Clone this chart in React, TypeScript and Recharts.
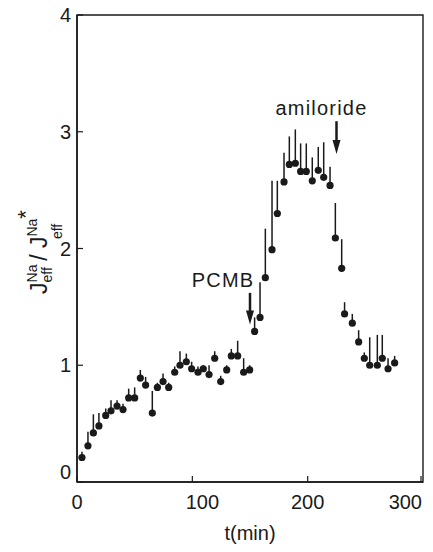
import { ScatterChart, Scatter, XAxis, YAxis, ErrorBar, ReferenceLine, ReferenceArea, Label } from 'recharts';

// time (min) of each sample
const times = [
  4.3, 9.5, 14.2, 19, 24.9, 29.5, 34.7, 39.9, 44.8, 50, 54.9, 59.5, 65.3, 69.7, 74.6, 79.5,
  84.7, 89.3, 94.8, 99.4, 104.9, 109.5, 114.5, 119.4, 124.6, 129.8, 133.8, 139.3, 144.5, 149.7,
  154, 158.7, 163.3, 169.1, 173.7, 179.5, 184.1, 189.3, 193.9, 198.8, 204, 209.2, 213.9, 219.4,
  224, 229.5, 232, 238.7, 244.2, 249.1, 253.8, 260.4, 264.7, 269.7, 275.4,
];

// mean flux ratio
const means = [
  0.21, 0.31, 0.42, 0.48, 0.57, 0.61, 0.65, 0.62, 0.72, 0.72, 0.89, 0.83, 0.59, 0.81, 0.86, 0.81,
  0.94, 1.0, 1.03, 0.97, 0.94, 0.97, 0.92, 1.06, 0.86, 0.96, 1.08, 1.08, 0.94, 0.96,
  1.29, 1.41, 1.75, 1.99, 2.3, 2.57, 2.72, 2.73, 2.66, 2.66, 2.58, 2.67, 2.61, 2.54,
  2.09, 1.83, 1.44, 1.36, 1.2, 1.06, 1.0, 1.0, 1.06, 0.97, 1.02,
];

// top of the error bar
const tops = [
  0.26, 0.43, 0.58, 0.59, 0.63, 0.7, 0.7, 0.67, 0.8, 0.81, 0.96, 0.9, 0.78, 0.85, 0.93, 0.85,
  0.99, 1.12, 1.1, 1.03, 0.99, 1.0, 1.0, 1.12, 0.91, 1.0, 1.14, 1.21, 1.06, 1.0,
  1.41, 1.71, 2.17, 2.58, 2.58, 2.82, 2.96, 3.02, 2.9, 2.9, 2.78, 2.87, 2.91, 2.7,
  2.39, 2.08, 1.54, 1.44, 1.3, 1.11, 1.24, 1.26, 1.26, 1.06, 1.08,
];

const xTicks = [0, 100, 200, 300];
const yTicks = [0, 1, 2, 3, 4];

const data = times.map((t, i) => ({ t, y: means[i], err: [0, tops[i] - means[i]] }));

const font = '"Liberation Sans", Arial, sans-serif';
const ink = '#1a1a1a';

const XTick = (props: any) => {
  const { x, y, payload } = props;
  const v = payload.value;
  const anchor = v === 300 ? 'end' : 'middle';
  const tx = v === 300 ? x + 1 : v === 100 ? x + 10 : x;
  return (
    <g>
      <line x1={x} y1={y} x2={x} y2={y - 6} stroke={ink} strokeWidth={1.2} />
      <text x={tx} y={y + 27} textAnchor={anchor} fontFamily={font} fontSize={20} fill={ink}>
        {v}
      </text>
    </g>
  );
};

const YTick = (props: any) => {
  const { x, y, payload } = props;
  const shift = payload.value === 0 ? -10 : 0;
  return (
    <g>
      <line x1={x} y1={y} x2={x + 6} y2={y} stroke={ink} strokeWidth={1.2} />
      <text x={x - 6} y={y + 7 + shift} textAnchor="end" fontFamily={font} fontSize={20} fill={ink}>
        {payload.value}
      </text>
    </g>
  );
};

const arrow = (text: string, dx: number) => (props: any) => {
  const { x1, y1, x2, y2 } = props;
  return (
    <g>
      <line x1={x1} y1={y1} x2={x2} y2={y2 - 12} stroke={ink} strokeWidth={2.5} />
      <polygon points={`${x2 - 4},${y2 - 14} ${x2 + 4},${y2 - 14} ${x2},${y2}`} fill={ink} />
      <text x={x1 + dx} y={y1 - 6} textAnchor="middle" fontFamily={font} fontSize={20} letterSpacing={1.2} fill={ink}>
        {text}
      </text>
    </g>
  );
};

const YLabel = () => (
  <text transform="rotate(-90, 47, 252)" x={47} y={252} textAnchor="middle" fontFamily={font} fontSize={23} fill={ink}>
    J
    <tspan fontSize={14} dy={-10}>Na</tspan>
    <tspan fontSize={14} dx={-18} dy={15}>eff</tspan>
    <tspan dy={-5}> / J</tspan>
    <tspan fontSize={14} dy={-10}>Na</tspan>
    <tspan fontSize={22} dy={-4}>*</tspan>
    <tspan fontSize={14} dx={-29} dy={29}>eff</tspan>
  </text>
);

export default function App() {
  return (
    <div style={{ position: 'absolute', left: 0, top: 0 }}>
      <ScatterChart width={433} height={552} margin={{ top: 15, right: 10, left: 0, bottom: 0 }}>
        <XAxis
          type="number"
          dataKey="t"
          domain={[0, 300]}
          ticks={xTicks}
          tickSize={0}
          tickMargin={0}
          tickLine={false}
          tick={<XTick />}
          height={70}
          axisLine={{ stroke: ink, strokeWidth: 1.5 }}
        >
          <Label
            value="t(min)"
            position="insideBottom"
            offset={12}
            style={{ fontFamily: font, fontSize: 20, fill: ink }}
          />
        </XAxis>
        <YAxis
          type="number"
          dataKey="y"
          domain={[0, 4]}
          ticks={yTicks}
          tickSize={0}
          tickMargin={0}
          tickLine={false}
          tick={<YTick />}
          width={77}
          axisLine={{ stroke: ink, strokeWidth: 1.5 }}
          label={{ content: () => <YLabel /> }}
        />
        <ReferenceArea x1={0} x2={300} y1={0} y2={4} fill="none" stroke={ink} strokeWidth={1.4} />
        <Scatter
          data={data}
          isAnimationActive={false}
          shape={(p: any) => <circle cx={p.cx} cy={p.cy} r={3.6} fill={ink} />}
        >
          <ErrorBar dataKey="err" direction="y" width={0} stroke={ink} strokeWidth={1.5} isAnimationActive={false} />
        </Scatter>
        <ReferenceLine
          segment={[{ x: 150, y: 1.62 }, { x: 150, y: 1.35 }]}
          shape={arrow('PCMB', -27)}
        />
        <ReferenceLine
          segment={[{ x: 225, y: 3.09 }, { x: 225, y: 2.81 }]}
          shape={arrow('amiloride', -15)}
        />
      </ScatterChart>
    </div>
  );
}
